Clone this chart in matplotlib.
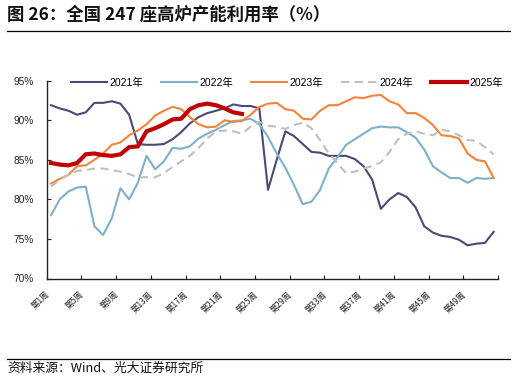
import matplotlib
matplotlib.use("Agg")
import matplotlib.pyplot as plt
from matplotlib.lines import Line2D
import numpy as np

plt.rcParams['font.family'] = ['Noto Sans CJK SC', 'DejaVu Sans']

weeks = list(range(1, 53))
week_labels = [f"第{w}周" for w in range(1, 53, 4)]

s2021 = [91.9, 91.5, 91.2, 90.7, 91.0, 92.2, 92.2, 92.4, 92.1, 90.7,
         87.0, 86.9, 86.9, 87.0, 87.6, 88.5, 89.6, 90.4, 90.9, 91.2,
         91.5, 92.0, 91.8, 91.8, 91.5, 81.2, 85.0, 88.6, 88.0, 87.0,
         86.0, 85.9, 85.5, 85.5, 85.5, 85.1, 84.2, 82.5, 78.8, 80.0,
         80.8, 80.3, 79.0, 76.6, 75.8, 75.4, 75.25, 74.9, 74.2, 74.4,
         74.5, 75.9]
s2022 = [78.0, 80.0, 81.0, 81.5, 81.6, 76.6, 75.5, 77.6, 81.4, 80.0,
         82.1, 85.5, 83.8, 84.8, 86.5, 86.4, 86.7, 87.7, 88.3, 88.8,
         89.4, 89.9, 90.0, 90.2, 89.5, 87.9, 85.8, 84.0, 81.8, 79.4,
         79.7, 81.2, 83.9, 85.3, 86.9, 87.6, 88.3, 89.0, 89.2, 89.1,
         89.1, 88.5, 87.8, 86.3, 84.2, 83.4, 82.7, 82.7, 82.1, 82.7,
         82.6, 82.7]
s2023 = [82.0, 82.6, 83.1, 84.2, 84.3, 85.0, 85.8, 86.9, 87.2, 88.1,
         88.7, 89.5, 90.6, 91.2, 91.7, 91.4, 90.4, 89.5, 89.1, 89.2,
         90.0, 89.8, 89.9, 90.7, 91.7, 92.1, 92.2, 91.4, 91.2, 90.2,
         90.1, 91.2, 91.9, 91.9, 92.4, 92.9, 92.8, 93.1, 93.2, 92.4,
         92.0, 90.9, 90.9, 90.3, 89.4, 88.1, 88.0, 87.7, 85.8, 85.0,
         84.8, 82.7]
s2024 = [81.6, 82.5, 83.1, 83.6, 83.7, 83.9, 83.9, 83.7, 83.5, 83.2,
         82.8, 82.8, 82.8, 83.3, 84.1, 84.8, 85.5, 86.5, 87.7, 88.6,
         88.7, 88.6, 88.3, 89.2, 89.8, 89.3, 89.2, 88.9, 89.4, 89.7,
         89.0, 87.5, 85.8, 84.6, 83.3, 83.5, 83.9, 84.2, 84.7, 86.0,
         87.6, 88.3, 88.6, 88.3, 88.1, 88.8, 88.6, 88.1, 87.5, 87.4,
         86.6, 85.7]
s2025 = [84.6, 84.4, 84.3, 84.6, 85.7, 85.8, 85.6, 85.5, 85.7, 86.6,
         86.7, 88.6, 89.0, 89.5, 90.1, 90.2, 91.4, 91.9, 92.1, 91.9,
         91.5, 91.0, 90.8]

W, H = 516, 379
fig = plt.figure(figsize=(W / 100, H / 100), dpi=100)
x0, x1 = 46.7, 498.0
ytop, ybot = 80.7, 278.5
ax = fig.add_axes([x0 / W, 1 - ybot / H, (x1 - x0) / W, (ybot - ytop) / H])

ax.plot(weeks, s2021, color='#4B4A75', lw=1.5, label='2021年', zorder=3)
ax.plot(weeks, s2022, color='#7EB0C9', lw=1.5, label='2022年', zorder=3)
ax.plot(weeks, s2023, color='#F2843A', lw=1.5, label='2023年', zorder=3)
ax.plot(weeks, s2024, color='#BFBFBF', lw=1.5, ls=(0, (4, 2.5)), label='2024年', zorder=3)
ax.plot(weeks[:len(s2025)], s2025, color='#C00000', lw=3.0, label='2025年', zorder=4,
        solid_joinstyle='miter')

ax.set_xlim(0.5, 52.5)
ax.set_ylim(70, 95)
ax.set_yticks([70, 75, 80, 85, 90, 95])
ax.set_yticklabels([f"{v}%" for v in [70, 75, 80, 85, 90, 95]],
                   fontsize=7.3, family=['Liberation Sans', 'Noto Sans CJK SC'], color='#222222')
ax.tick_params(axis='y', direction='in', length=3, width=0.8, pad=9.5, color='#222222')

ax.set_xticks(np.arange(0.5, 53, 4))
ax.set_xticks(list(range(1, 53, 4)), minor=True)
ax.set_xticklabels([], minor=False)
ax.set_xticklabels(week_labels, minor=True, rotation=45, ha='right', fontsize=6,
                   color='#222222')
ax.tick_params(axis='x', which='major', direction='in', length=3, width=0.8, color='#222222')
ax.tick_params(axis='x', which='minor', length=0, pad=8)

for sp in ['top', 'right']:
    ax.spines[sp].set_visible(False)
for sp in ['left', 'bottom']:
    ax.spines[sp].set_color('#222222')
    ax.spines[sp].set_linewidth(1.0)

ax.legend(ncol=5, loc='center', bbox_to_anchor=(287 / W, 1 - 83 / H),
          bbox_transform=fig.transFigure, frameon=False,
          prop={'family': ['Liberation Sans', 'Noto Sans CJK SC'], 'size': 7.5},
          handlelength=3.5, handletextpad=0.25, columnspacing=1.65)

fig.text(7 / W, 1 - 15 / H, "图 26：全国 247 座高炉产能利用率（%）", fontsize=12.5,
         fontweight='bold', ha='left', va='center', color='#111111')
fig.add_artist(Line2D([7 / W, 510 / W], [1 - 31 / H] * 2, color='black', lw=0.9))
fig.add_artist(Line2D([7 / W, 510 / W], [1 - 359 / H] * 2, color='black', lw=0.9))
fig.text(7 / W, 1 - 368 / H, "资料来源：Wind、光大证券研究所", fontsize=9.2,
         ha='left', va='center', color='#111111')

fig.savefig('out.png', dpi=100)
